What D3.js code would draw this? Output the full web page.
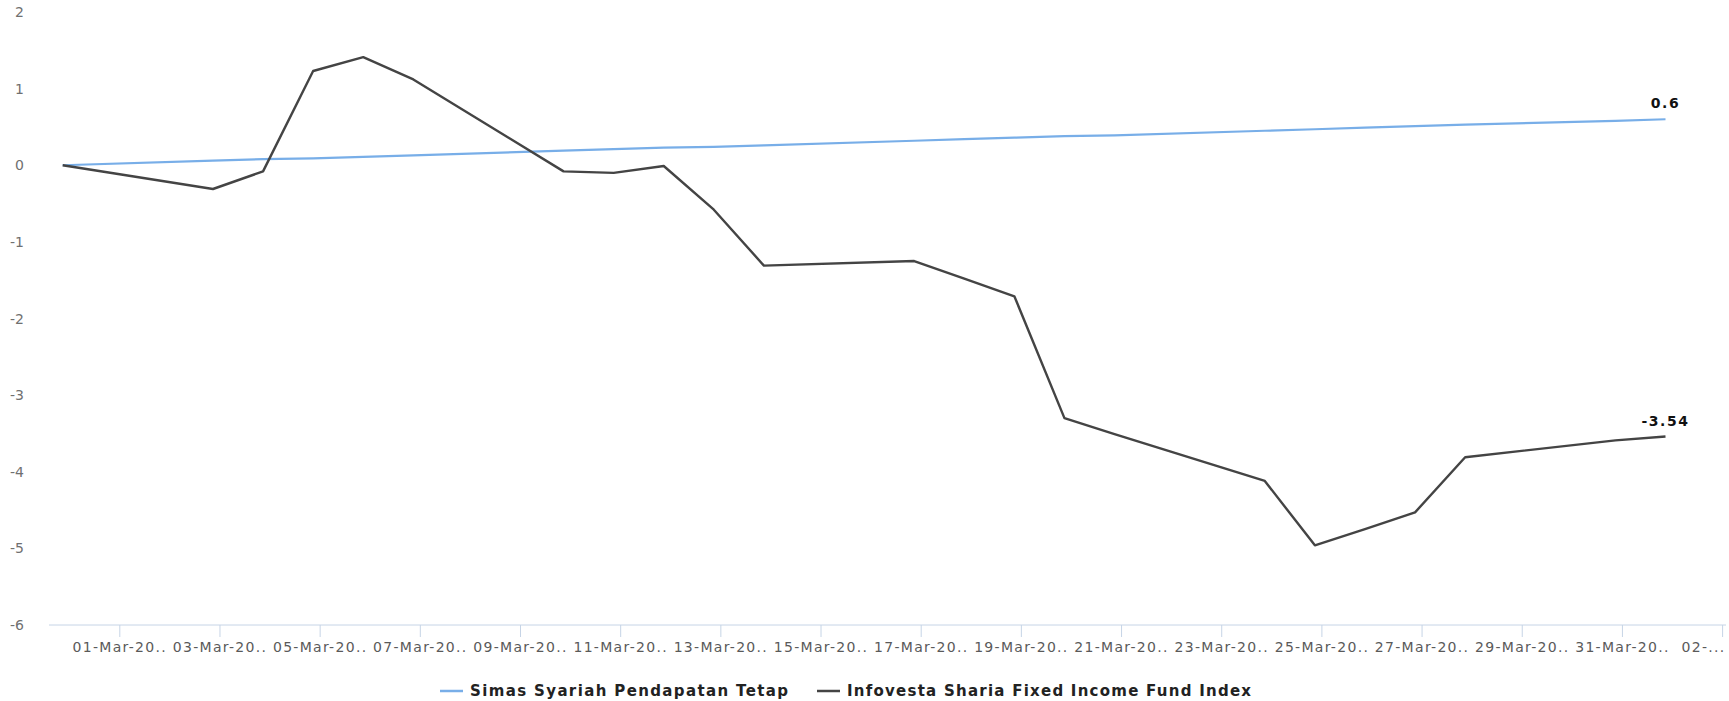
<!DOCTYPE html>
<html>

<head>
  <title>Simas Syariah Pendapatan Tetap vs Infovesta</title>
  <meta charset="utf-8">
  <script src="https://d3js.org/d3.v7.min.js"></script>
  <style>
    body { margin: 0; background: #fff; }
    svg text { font-family: "DejaVu Sans", Verdana, sans-serif; }
    .yaxis text { fill: #707070; font-size: 14px; }
    .xaxis text { fill: #5a5a5a; font-size: 14px; letter-spacing: 1.3px; }
    .xaxis line, .xaxis path { stroke: #c6d4e6; }
    .legend text { fill: #222; font-size: 15px; font-weight: bold; }
    .vlabel { fill: #111; font-size: 14px; font-weight: bold; letter-spacing: 1.5px; }
  </style>
</head>

<body>
  <svg id="chart" width="1729" height="701"></svg>
  <script>

    // trading days shown on the chart
    var dates = ["2020-02-28", "2020-03-02", "2020-03-03", "2020-03-04", "2020-03-05", "2020-03-06",
      "2020-03-09", "2020-03-10", "2020-03-11", "2020-03-12", "2020-03-13",
      "2020-03-16", "2020-03-17", "2020-03-18", "2020-03-19", "2020-03-20",
      "2020-03-23", "2020-03-24", "2020-03-25", "2020-03-26", "2020-03-27",
      "2020-03-30", "2020-03-31"];

    var simas = [0, 0.06, 0.08, 0.09, 0.11, 0.13,
      0.19, 0.21, 0.23, 0.24, 0.26,
      0.32, 0.34, 0.36, 0.38, 0.39,
      0.45, 0.47, 0.49, 0.51, 0.53,
      0.58, 0.6];

    var infovesta = [0, -0.31, -0.08, 1.23, 1.41, 1.12,
      -0.08, -0.1, -0.01, -0.58, -1.31,
      -1.25, -1.48, -1.71, -3.3, -3.51,
      -4.12, -4.96, -4.75, -4.53, -3.81,
      -3.59, -3.54];

    var tickDates = ["2020-03-01", "2020-03-03", "2020-03-05", "2020-03-07", "2020-03-09", "2020-03-11",
      "2020-03-13", "2020-03-15", "2020-03-17", "2020-03-19", "2020-03-21", "2020-03-23",
      "2020-03-25", "2020-03-27", "2020-03-29", "2020-03-31", "2020-04-02"];
    var tickLabels = ["01-Mar-20..", "03-Mar-20..", "05-Mar-20..", "07-Mar-20..", "09-Mar-20..", "11-Mar-20..",
      "13-Mar-20..", "15-Mar-20..", "17-Mar-20..", "19-Mar-20..", "21-Mar-20..", "23-Mar-20..",
      "25-Mar-20..", "27-Mar-20..", "29-Mar-20..", "31-Mar-20..", "02-..."];

    var yTicks = [2, 1, 0, -1, -2, -3, -4, -5, -6];
    var seriesNames = ["Simas Syariah Pendapatan Tetap", "Infovesta Sharia Fixed Income Fund Index"];
    var colors = ["#78aee8", "#444444"];

    var parse = d3.utcParse("%Y-%m-%d");
    var start = parse(dates[0]);
    // the chart draws its date labels a little under a day before the date itself
    var labelShift = -0.86;
    function dayOf(s) { return d3.utcDay.count(start, parse(s)); }

    var svg = d3.select("#chart");

    var x = d3.scaleLinear().domain([0, 32]).range([62.7, 1665.5]);
    var y = d3.scaleLinear().domain([-6, 2]).range([625, 12]);

    // x axis
    var xa = svg.append("g").attr("class", "xaxis");
    xa.append("line")
      .attr("x1", 49).attr("x2", 1726)
      .attr("y1", y(-6)).attr("y2", y(-6));
    var tk = xa.selectAll("g.tick")
      .data(tickDates)
      .enter().append("g")
      .attr("class", "tick")
      .attr("transform", function (d) { return "translate(" + x(dayOf(d) + labelShift) + "," + y(-6) + ")"; });
    tk.append("line").attr("y1", 0).attr("y2", 12);
    tk.append("text")
      .attr("y", 27)
      .attr("text-anchor", function (d, i) { return i == tickDates.length - 1 ? "end" : "middle"; })
      .attr("dx", function (d, i) { return i == tickDates.length - 1 ? 3 : 0; })
      .text(function (d, i) { return tickLabels[i]; });

    // y labels (no axis line)
    svg.append("g").attr("class", "yaxis")
      .selectAll("text")
      .data(yTicks)
      .enter().append("text")
      .attr("x", 24)
      .attr("y", function (d) { return y(d); })
      .attr("dy", "0.36em")
      .attr("text-anchor", "end")
      .text(function (d) { return d < 0 ? "-" + Math.abs(d) : d; });

    var line = d3.line()
      .x(function (d) { return x(dayOf(d.date)); })
      .y(function (d) { return y(d.v); });

    [simas, infovesta].forEach(function (vals, s) {
      var pts = dates.map(function (d, i) { return { date: d, v: vals[i] }; });
      svg.append("path")
        .datum(pts)
        .attr("fill", "none")
        .attr("stroke", colors[s])
        .attr("stroke-width", s == 0 ? 2.2 : 2.4)
        .attr("stroke-linejoin", "round")
        .attr("d", line);
      var last = pts[pts.length - 1];
      svg.append("text")
        .attr("class", "vlabel")
        .attr("x", x(dayOf(last.date)))
        .attr("y", y(last.v) - 11)
        .attr("text-anchor", "middle")
        .text(last.v);
    });

    // legend
    var legX = [440, 817];
    var legW = [318, 404];
    var lg = svg.append("g").attr("class", "legend");
    seriesNames.forEach(function (name, i) {
      lg.append("line")
        .attr("x1", legX[i]).attr("x2", legX[i] + 23)
        .attr("y1", 691).attr("y2", 691)
        .attr("stroke", colors[i]).attr("stroke-width", 2.5);
      lg.append("text")
        .attr("x", legX[i] + 30).attr("y", 696)
        .attr("textLength", legW[i])
        .attr("lengthAdjust", "spacing")
        .text(name);
    });

  </script>
</body>

</html>
